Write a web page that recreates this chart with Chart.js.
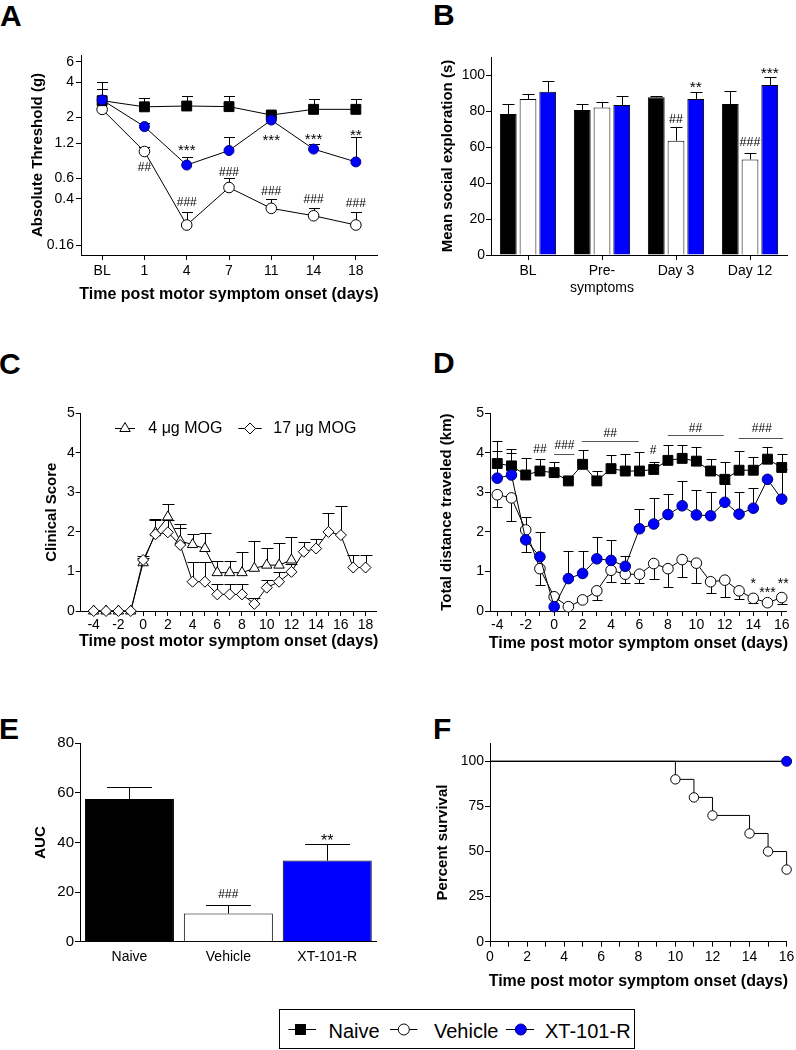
<!DOCTYPE html>
<html><head><meta charset="utf-8">
<script src="https://cdn.jsdelivr.net/npm/chart.js@4.4.0/dist/chart.umd.min.js"></script>
<style>
html,body{margin:0;padding:0;background:#fff;}
#fig{position:relative;width:796px;height:1050px;overflow:hidden;font-family:'Liberation Sans',Arial,sans-serif;color:#000;}
canvas{position:absolute;}
.lt{position:absolute;font-weight:bold;font-size:30px;line-height:30px;}
#legend{position:absolute;left:279px;top:1009px;width:354px;height:38px;border:1px solid #000;}
#legend span{position:absolute;top:10.8px;font-size:20px;line-height:20px;white-space:nowrap;}
#legend svg{position:absolute;left:0;top:0;}
</style></head><body>
<div id="fig">
<div class="lt" style="left:0;top:1px">A</div>
<div class="lt" style="left:433px;top:0">B</div>
<div class="lt" style="left:-1px;top:349px">C</div>
<div class="lt" style="left:433px;top:348px">D</div>
<div class="lt" style="left:-1px;top:714px">E</div>
<div class="lt" style="left:433px;top:714px">F</div>
<div id="legend">
<svg width="354" height="38">
<line x1="8.3" y1="19.5" x2="36" y2="19.5" stroke="#000"/>
<rect x="15" y="14" width="11" height="11" fill="#000"/>
<line x1="110" y1="19.5" x2="137.3" y2="19.5" stroke="#000"/>
<circle cx="123.8" cy="19.5" r="5.5" fill="#fff" stroke="#000"/>
<line x1="226" y1="19.5" x2="254" y2="19.5" stroke="#000"/>
<circle cx="240.8" cy="19.5" r="5.5" fill="#0000ff" stroke="#000080"/>
</svg>
<span style="left:48.5px">Naive</span>
<span style="left:154px">Vehicle</span>
<span style="left:265px">XT-101-R</span>
</div>
</div>
<script>
// ---------------- DATA ----------------
const XTITLE = 'Time post motor symptom onset (days)';

// Panel A – absolute threshold (g), upper error bounds
const aCats = ['BL', '1', '4', '7', '11', '14', '18'];
const aYTicks = [0.16, 0.4, 0.6, 1.2, 2, 4, 6];
const aNaive = [2.79, 2.47, 2.51, 2.48, 2.10, 2.35, 2.35];
const aNaiveHi = [4.06, 2.96, 3.08, 3.08, 2.24, 2.87, 2.87];
const aVehicle = [2.35, 1.02, 0.238, 0.50, 0.331, 0.286, 0.238];
const aVehicleHi = [null, 1.12, 0.31, 0.607, 0.396, 0.331, 0.31];
const aXt = [2.83, 1.67, 0.78, 1.04, 1.90, 1.07, 0.83];
const aXtHi = [3.5, 1.78, 0.91, 1.35, 2.0, 1.18, 1.35];
const aNotes = [[2, 1.12, '***'], [1, 0.755, '##'], [2, 0.377, '###'], [3, 0.68, '###'],
  [4, 1.37, '***'], [4, 0.47, '###'], [5, 1.41, '***'], [5, 0.40, '###'],
  [6, 1.51, '**'], [6, 0.368, '###']];

// Panel B – mean social exploration (s)
const bCats = ['BL', ['Pre-', 'symptoms'], 'Day 3', 'Day 12'];
const bYTicks = [0, 20, 40, 60, 80, 100];
const bNaive = [78.3, 80.6, 87.6, 83.9];
const bNaiveHi = [83.9, 83.7, 88.5, 91.1];
const bVehicle = [86.7, 81.9, 63.5, 53.1];
const bVehicleHi = [89.3, 84.8, 70.9, 56.5];
const bXt = [90.7, 83.3, 86.7, 94.4];
const bXtHi = [96.7, 88.5, 90.4, 99.1];
const bNotes = [[2, 95.4, '**', 2], [2, 76.1, '##', 1], [3, 62.9, '###', 1], [3, 103.3, '***', 2]];

// Panel C – clinical score
const cDays = [-4, -3, -2, -1, 0, 1, 2, 3, 4, 5, 6, 7, 8, 9, 10, 11, 12, 13, 14, 15, 16, 17, 18];
const cXTicks = [-4, -3, -2, -1, 0, 1, 2, 3, 4, 5, 6, 7, 8, 9, 10, 11, 12, 13, 14, 15, 16, 17, 18];
const cXLabels = [-4, -2, 0, 2, 4, 6, 8, 10, 12, 14, 16, 18];
const cYTicks = [0, 1, 2, 3, 4, 5];
const cMog4 = [0, 0, 0, 0, 1.22, 1.98, 2.38, 1.77, 1.68, 1.58, 0.97, 0.97, 0.97, 1.08, 1.16, 1.16, 1.29];
const cMog4Hi = [null, null, null, null, 1.4, 2.32, 2.7, 2.19, 1.94, 1.98, 1.27, 1.27, 1.48, 1.78, 1.6, 1.72, 1.86];
const cMog17 = [0, 0, 0, 0, 1.29, 1.94, 1.99, 1.67, 0.74, 0.74, 0.42, 0.42, 0.42, 0.18, 0.59, 0.74, 0.99, 1.5, 1.58, 2.0, 1.92, 1.1, 1.1];
const cMog17Hi = [null, null, null, null, 1.35, 2.3, 2.3, 2.09, 1.25, 1.25, 0.68, 0.68, 0.68, 0.32, 0.78, 0.99, 1.2, 1.75, 1.82, 2.49, 2.65, 1.41, 1.41];

// Panel D – total distance traveled (km)
const dDays = [-4, -3, -2, -1, 0, 1, 2, 3, 4, 5, 6, 7, 8, 9, 10, 11, 12, 13, 14, 15, 16];
const dXLabels = [-4, -2, 0, 2, 4, 6, 8, 10, 12, 14, 16];
const dYTicks = [0, 1, 2, 3, 4, 5];
const dNaive = [3.73, 3.67, 3.44, 3.54, 3.5, 3.29, 3.71, 3.29, 3.6, 3.54, 3.54, 3.58, 3.81, 3.86, 3.79, 3.54, 3.33, 3.56, 3.56, 3.84, 3.63];
const dNaiveHi = [4.3, 4.09, 3.86, 3.84, 3.78, 3.4, 4.06, 3.54, 3.94, 3.98, 4.03, 3.78, 4.2, 4.21, 4.15, 3.84, 3.77, 4.05, 3.9, 4.15, 3.98];
const dVehicle = [2.94, 2.86, 2.05, 1.07, 0.36, 0.11, 0.28, 0.51, 1.03, 0.93, 0.93, 1.2, 1.07, 1.3, 1.21, 0.74, 0.78, 0.51, 0.32, 0.21, 0.34];
const dVehicleLo = [2.64, 2.27, 1.49, 0.67, null, null, null, 0.28, 0.74, 0.72, 0.71, 0.8, 0.6, 0.86, 0.72, 0.46, 0.36, 0.3, 0.19, null, 0.18];
const dXt = [3.36, 3.44, 1.8, 1.37, 0.11, 0.82, 0.95, 1.32, 1.28, 1.13, 2.08, 2.2, 2.44, 2.66, 2.43, 2.41, 2.75, 2.45, 2.6, 3.33, 2.83];
const dXtHi = [4.05, 4.0, 2.37, 2.0, null, 1.52, 1.53, 1.88, 1.8, 1.38, 2.58, 2.86, 2.96, 3.29, 3.06, 3.02, 3.2, 3.02, 3.12, null, 3.6];
const dNotes = [[-1, 4.10, '##'], [0.73, 4.21, '###'], [3.94, 4.5, '##'], [6.95, 4.09, '#'],
  [9.93, 4.63, '##'], [14.6, 4.63, '###'], [14, 0.78, '*'], [15, 0.57, '***'], [16.1, 0.78, '**']];
const dBrackets = [[0, 1.43, 3.96], [1.95, 5.94, 4.31], [7.98, 11.92, 4.44], [12.98, 16.1, 4.38]];

// Panel E – AUC
const eCats = ['Naive', 'Vehicle', 'XT-101-R'];
const eYTicks = [0, 20, 40, 60, 80];
const eAuc = [57.5, 11.4, 32.7];
const eAucHi = [62.5, 14.8, 39.3];
const eNotes = [[1, 19.5, '###', 0], [2, 42.3, '**', 0]];

// Panel F – percent survival
const fXTicks = [0, 1, 2, 3, 4, 5, 6, 7, 8, 9, 10, 11, 12, 13, 14, 15, 16];
const fXLabels = [0, 2, 4, 6, 8, 10, 12, 14, 16];
const fYTicks = [0, 25, 50, 75, 100];
const fVehDays = [0, 10, 11, 12, 14, 15, 16];
const fVehicle = [100, 90, 80, 70, 60, 50, 40];
const fNaiveDays = [0, 16];
const fNaive = [100, 100];
const fXtDays = [0, 16];
const fXt = [100, 100];

// ---------------- HELPERS ----------------
const FONT = "'Liberation Sans', Arial, Helvetica, sans-serif";
const BLUE = '#0000ff';
Chart.defaults.font.family = FONT;
Chart.defaults.color = '#000';
Chart.defaults.animation = false;
Chart.defaults.responsive = false;
Chart.defaults.maintainAspectRatio = false;
Chart.defaults.plugins.legend.display = false;
Chart.defaults.plugins.tooltip.enabled = false;

const fig = document.getElementById('fig');
function makeCanvas(l, t, w, h) {
  const c = document.createElement('canvas');
  c.width = w; c.height = h;
  c.style.cssText = `left:${l}px;top:${t}px;width:${w}px;height:${h}px`;
  fig.appendChild(c);
  return c;
}
function yAxis(o) {
  return {
    type: o.type || 'linear', min: o.min, max: o.max, bounds: 'data', position: 'left',
    afterFit: s => { s.width = o.width; },
    afterBuildTicks: s => { s.ticks = o.ticks.map(v => ({ value: v })); },
    ticks: { font: { size: o.fs || 14, family: FONT }, color: '#000', padding: o.pad == null ? 1 : o.pad, autoSkip: false, callback: v => String(v) },
    grid: { drawOnChartArea: false, drawTicks: true, tickLength: 5, color: '#000', lineWidth: 1 },
    border: { display: true, color: '#000', width: 1 },
    title: { display: false }
  };
}
function xLin(o) {
  return {
    type: 'linear', min: o.min, max: o.max, bounds: 'data', position: 'bottom',
    afterFit: s => { s.height = o.height; },
    afterBuildTicks: s => { s.ticks = o.ticks.map(v => ({ value: v })); },
    ticks: { font: { size: 14, family: FONT }, color: '#000', padding: o.pad, autoSkip: false, maxRotation: 0, minRotation: 0,
      callback: v => (o.labels.includes(v) ? String(v) : '') },
    grid: { drawOnChartArea: false, tickLength: 5, color: '#000' },
    border: { display: true, color: '#000', width: 1 },
    title: { display: false }
  };
}
function xCat(o) {
  return {
    type: 'category', offset: true, position: 'bottom',
    afterFit: s => { s.height = o.height; },
    ticks: { font: { size: 14, family: FONT }, color: '#000', padding: o.pad, autoSkip: false, maxRotation: 0, minRotation: 0 },
    grid: { drawOnChartArea: false, offset: false, drawTicks: o.drawTicks !== false, tickLength: 5, color: '#000' },
    border: { display: true, color: '#000', width: 1 },
    title: { display: false }
  };
}
function pts(xs, ys) { return ys.map((y, i) => ({ x: xs[i], y })); }
function ser(data, o) {
  return {
    data, hi: o.hi, lo: o.lo, order: o.order || 0, stepped: o.stepped || false,
    borderColor: '#000', borderWidth: 1, tension: 0, fill: false, clip: false, spanGaps: true,
    pointStyle: o.style, pointRadius: o.r, pointHoverRadius: o.r, pointBackgroundColor: o.fill,
    pointBorderColor: o.edge || '#000', pointBorderWidth: 1
  };
}
function val(d) { return (d !== null && typeof d === 'object') ? d.y : d; }
function drawErrs(chart, bars, cap) {
  const ctx = chart.ctx;
  ctx.save(); ctx.strokeStyle = '#000'; ctx.lineWidth = 1;
  chart.data.datasets.forEach((ds, di) => {
    const meta = chart.getDatasetMeta(di);
    if ((meta.type === 'bar') !== bars) return;
    const ys = chart.scales[meta.yAxisID];
    ['hi', 'lo'].forEach(k => {
      const arr = ds[k]; if (!arr) return;
      arr.forEach((b, i) => {
        if (b == null || !meta.data[i]) return;
        const x = Math.round(meta.data[i].x) + 0.5;
        const y0 = ys.getPixelForValue(val(ds.data[i]));
        const y1 = Math.round(ys.getPixelForValue(b)) + 0.5;
        ctx.beginPath(); ctx.moveTo(x, y0); ctx.lineTo(x, y1);
        ctx.moveTo(x - cap, y1); ctx.lineTo(x + cap, y1); ctx.stroke();
      });
    });
  });
  ctx.restore();
}
function drawNotes(chart, notes, hashSize, starSize) {
  const ctx = chart.ctx, xs = chart.scales.x, ys = chart.scales.y;
  ctx.save(); ctx.fillStyle = '#000'; ctx.textAlign = 'center'; ctx.textBaseline = 'alphabetic';
  notes.forEach(n => {
    const star = n[2][0] === '*';
    const fs = star ? starSize : hashSize;
    ctx.font = `${fs}px ${FONT}`;
    const px = n[3] != null ? chart.getDatasetMeta(n[3]).data[n[0]].x : xs.getPixelForValue(n[0]);
    const py = ys.getPixelForValue(n[1]) + (star ? 0.58 : 0.36) * fs;
    ctx.fillText(n[2], px, py);
  });
  ctx.restore();
}
function drawTitles(chart, cfg) {
  const ctx = chart.ctx, a = chart.chartArea;
  ctx.save(); ctx.fillStyle = '#000'; ctx.textAlign = 'center'; ctx.textBaseline = 'middle';
  if (cfg.xt) {
    ctx.font = `bold 16px ${FONT}`;
    ctx.fillText(XTITLE, (a.left + a.right) / 2, a.bottom + cfg.xt);
  }
  if (cfg.yt) {
    ctx.font = `bold 15px ${FONT}`;
    ctx.translate(a.left - cfg.yt[1], (a.top + a.bottom) / 2);
    ctx.rotate(-Math.PI / 2);
    ctx.fillText(cfg.yt[0], 0, 0);
  }
  ctx.restore();
}
function marks(cfg) {
  return {
    id: 'marks',
    beforeDatasetsDraw(chart) { drawErrs(chart, false, cfg.cap); },
    afterDatasetsDraw(chart) {
      drawErrs(chart, true, cfg.cap);
      if (cfg.brackets) {
        const ctx = chart.ctx, xs = chart.scales.x, ys = chart.scales.y;
        ctx.save(); ctx.strokeStyle = '#555'; ctx.lineWidth = 1;
        cfg.brackets.forEach(b => {
          const y = Math.round(ys.getPixelForValue(b[2])) + 0.5;
          ctx.beginPath(); ctx.moveTo(xs.getPixelForValue(b[0]), y); ctx.lineTo(xs.getPixelForValue(b[1]), y); ctx.stroke();
        });
        ctx.restore();
      }
      if (cfg.notes) drawNotes(chart, cfg.notes, cfg.hash || 12, cfg.star || 15);
      if (cfg.legend) cfg.legend(chart);
    },
    afterDraw(chart) { drawTitles(chart, cfg); }
  };
}

// ---------------- PANEL A ----------------
new Chart(makeCanvas(0, 30, 396, 280), {
  type: 'line',
  data: { labels: aCats, datasets: [
    ser(aNaive, { hi: aNaiveHi, style: 'rect', r: 7, fill: '#000', order: 1 }),
    ser(aVehicle, { hi: aVehicleHi, style: 'circle', r: 5.3, fill: '#fff', order: 2 }),
    ser(aXt, { hi: aXtHi, style: 'circle', r: 5, fill: BLUE, edge: '#000080', order: 0 })
  ] },
  options: {
    layout: { padding: { top: 25, right: 19, left: 0, bottom: 0 } },
    scales: {
      x: xCat({ height: 55, pad: 3 }),
      y: yAxis({ type: 'logarithmic', min: 0.1315, max: 6.89, ticks: aYTicks, width: 81, pad: 2 })
    }
  },
  plugins: [marks({ cap: 5.5, notes: aNotes, xt: 40, yt: ['Absolute Threshold (g)', 42.7] })]
});

// ---------------- PANEL B ----------------
function bBar(data, hi, color) {
  return { data, hi, backgroundColor: color, borderColor: '#000', borderWidth: 1, categoryPercentage: 0.8, barPercentage: 0.85 };
}
new Chart(makeCanvas(400, 30, 396, 280), {
  type: 'bar',
  data: { labels: bCats, datasets: [bBar(bNaive, bNaiveHi, '#000'), bBar(bVehicle, bVehicleHi, '#fff'), bBar(bXt, bXtHi, BLUE)] },
  options: {
    layout: { padding: { top: 27, right: 9, left: 0, bottom: 0 } },
    scales: {
      x: xCat({ height: 55, pad: 3 }),
      y: yAxis({ min: 0, max: 110, ticks: bYTicks, width: 91 })
    }
  },
  plugins: [marks({ cap: 6, notes: bNotes, hash: 12.5, star: 15.5, yt: ['Mean social exploration (s)', 43] })]
});

// ---------------- PANEL C ----------------
function cLegend(chart) {
  const ctx = chart.ctx, a = chart.chartArea;
  const y = Math.round(a.top + 14.4) + 0.5;
  ctx.save(); ctx.strokeStyle = '#000'; ctx.lineWidth = 1;
  ctx.beginPath(); ctx.moveTo(a.left + 34.3, y); ctx.lineTo(a.left + 54.3, y); ctx.stroke();
  const tx = a.left + 44.3, r = 6;
  ctx.beginPath();
  ctx.moveTo(tx, y - r); ctx.lineTo(tx + r * 0.866, y + r * 0.5); ctx.lineTo(tx - r * 0.866, y + r * 0.5); ctx.closePath();
  ctx.fillStyle = '#fff'; ctx.fill(); ctx.stroke();
  ctx.beginPath(); ctx.moveTo(a.left + 157.6, y); ctx.lineTo(a.left + 181, y); ctx.stroke();
  const dx = a.left + 169.3, d = 5.5;
  ctx.beginPath();
  ctx.moveTo(dx, y - d); ctx.lineTo(dx + d, y); ctx.lineTo(dx, y + d); ctx.lineTo(dx - d, y); ctx.closePath();
  ctx.fill(); ctx.stroke();
  ctx.fillStyle = '#000'; ctx.font = `16px ${FONT}`; ctx.textAlign = 'left'; ctx.textBaseline = 'alphabetic';
  ctx.fillText('4 μg MOG', a.left + 67.6, a.top + 19.4);
  ctx.fillText('17 μg MOG', a.left + 192.6, a.top + 19.4);
  ctx.restore();
}
new Chart(makeCanvas(0, 340, 396, 320), {
  type: 'line',
  data: { datasets: [
    ser(pts(cDays, cMog4), { hi: cMog4Hi, style: 'triangle', r: 6, fill: '#fff', order: 1 }),
    ser(pts(cDays, cMog17), { hi: cMog17Hi, style: 'rectRot', r: 5.5, fill: '#fff', order: 0 })
  ] },
  options: {
    layout: { padding: { top: 73.3, right: 19.3, left: 0, bottom: 0 } },
    scales: {
      x: xLin({ min: -5.05, max: 18.9, ticks: cXTicks, labels: cXLabels, height: 49, pad: 0.6 }),
      y: yAxis({ min: 0, max: 5, ticks: cYTicks, width: 80.7 })
    }
  },
  plugins: [marks({ cap: 6, legend: cLegend, xt: 30.7, yt: ['Clinical Score', 29] })]
});

// ---------------- PANEL D ----------------
new Chart(makeCanvas(400, 340, 396, 320), {
  type: 'line',
  data: { datasets: [
    ser(pts(dDays, dNaive), { hi: dNaiveHi, style: 'rect', r: 7, fill: '#000', order: 1 }),
    ser(pts(dDays, dVehicle), { lo: dVehicleLo, style: 'circle', r: 5.3, fill: '#fff', order: 2 }),
    ser(pts(dDays, dXt), { hi: dXtHi, style: 'circle', r: 5.3, fill: BLUE, edge: '#000080', order: 0 })
  ] },
  options: {
    layout: { padding: { top: 73.3, right: 9.3, left: 0, bottom: 0 } },
    scales: {
      x: xLin({ min: -4.51, max: 16.35, ticks: dDays, labels: dXLabels, height: 49, pad: 0.6 }),
      y: yAxis({ min: 0, max: 5, ticks: dYTicks, width: 90 })
    }
  },
  plugins: [marks({ cap: 5, notes: dNotes, brackets: dBrackets, hash: 12, star: 14, xt: 32.3, yt: ['Total distance traveled (km)', 43.3] })]
});

// ---------------- PANEL E ----------------
new Chart(makeCanvas(0, 700, 396, 300), {
  type: 'bar',
  data: { labels: eCats, datasets: [{ data: eAuc, hi: eAucHi, backgroundColor: ['#000', '#fff', BLUE], borderColor: '#000', borderWidth: 1, categoryPercentage: 1, barPercentage: 0.9 }] },
  options: {
    layout: { padding: { top: 43.3, right: 19.3, left: 0, bottom: 0 } },
    scales: {
      x: xCat({ height: 58.3, pad: 6.6, drawTicks: false }),
      y: yAxis({ min: 0, max: 80, ticks: eYTicks, width: 80, fs: 15 })
    }
  },
  plugins: [marks({ cap: 22.5, notes: eNotes, hash: 12, star: 16, yt: ['AUC', 39] })]
});

// ---------------- PANEL F ----------------
new Chart(makeCanvas(400, 700, 396, 300), {
  type: 'line',
  data: { datasets: [
    ser(pts(fNaiveDays, fNaive), { style: 'rect', r: 0, fill: '#000', order: 2 }),
    ser(pts(fVehDays, fVehicle), { style: 'circle', r: [0, 4.7, 4.7, 4.7, 4.7, 4.7, 4.7], fill: '#fff', order: 1, stepped: true }),
    ser(pts(fXtDays, fXt), { style: 'circle', r: [0, 5], fill: BLUE, edge: '#000080', order: 0 })
  ] },
  options: {
    layout: { padding: { top: 43.3, right: 8.7, left: 0, bottom: 0 } },
    scales: {
      x: xLin({ min: 0, max: 16, ticks: fXTicks, labels: fXLabels, height: 58.3, pad: 1.6 }),
      y: yAxis({ min: 0, max: 110, ticks: fYTicks, width: 90 })
    }
  },
  plugins: [marks({ cap: 5, xt: 40.3, yt: ['Percent survival', 46.7] })]
});
</script>
</body></html>
